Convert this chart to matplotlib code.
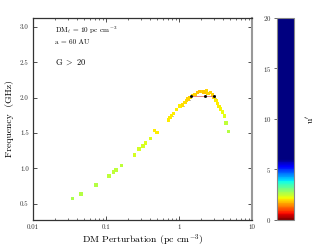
import numpy as np
import matplotlib
matplotlib.use("Agg")
import matplotlib.pyplot as plt
from matplotlib.colors import ListedColormap, Normalize
import matplotlib.cm as cm

plt.rcParams['font.family'] = 'serif'
plt.rcParams['font.serif'] = ['cmr10', 'DejaVu Serif']
plt.rcParams['mathtext.fontset'] = 'cm'
plt.rcParams['axes.unicode_minus'] = False
plt.rcParams['axes.formatter.use_mathtext'] = True

###############################################################################
# datos
###############################################################################
dm = [0.0345, 0.0455, 0.073, 0.11, 0.126, 0.138, 0.162, 0.244, 0.283, 0.321,
      0.35, 0.41, 0.459, 0.5,
      0.713, 0.753, 0.795, 0.836, 0.93, 1.03, 1.11, 1.21, 1.27, 1.33, 1.41,
      1.54, 1.65, 1.78, 1.93, 2.1, 2.2, 2.37, 2.5, 2.7, 2.88, 3.0, 3.2, 3.35,
      3.55, 3.7, 3.97, 4.2, 4.4, 4.8]
freq = [0.571, 0.637, 0.764, 0.895, 0.948, 0.98, 1.037, 1.192, 1.273, 1.315,
        1.357, 1.42, 1.535, 1.51,
        1.686, 1.72, 1.747, 1.78, 1.83, 1.885, 1.9, 1.93, 1.96, 1.98, 2.0,
        2.03, 2.05, 2.07, 2.09, 2.09, 2.08, 2.1, 2.06, 2.07, 2.04, 2.0, 1.96,
        1.92, 1.88, 1.84, 1.80, 1.74, 1.64, 1.52]
uprime = [2.7, 2.65, 2.6, 2.55, 2.5, 2.5, 2.5, 2.4, 2.4, 2.4,
          2.3, 2.3, 2.1, 2.05,
          2.05, 2.05, 2.05, 2.05, 2.05, 2.05, 2.0, 2.0, 2.0, 1.95, 1.95,
          1.9, 1.9, 1.85, 1.85, 1.9, 1.85, 1.9, 1.95, 1.9, 1.95, 2.0, 2.05,
          2.05, 2.1, 2.15, 2.2, 2.3, 2.5, 2.65]

# barras de error horizontales (grises)
err_x = [0.49, 0.77, 0.8, 1.1, 1.33, 1.6, 3.05, 3.35, 3.6]
err_y = [1.535, 1.745, 1.77, 1.89, 1.965, 2.035, 1.99, 1.93, 1.87]
err_w = [0.03, 0.05, 0.05, 0.07, 0.08, 0.1, 0.15, 0.12, 0.1]

# barra del pico
pico_x = [1.45, 2.27, 3.01]
pico_y = [2.03, 2.03, 2.03]

###############################################################################
# mapa de color: jet invertido de 0 a 6, azul oscuro hasta 20
###############################################################################
jr = plt.get_cmap('jet_r')
vals = np.linspace(0, 20, 256)
cmap = ListedColormap([jr(min(v / 6.0, 1.0)) for v in vals])
norm = Normalize(0, 20)

fig = plt.figure(figsize=(3.36, 2.52), dpi=100)
ax = fig.add_axes([0.098, 0.127, 0.652, 0.802])

ax.errorbar(err_x, err_y, xerr=err_w, fmt='none', ecolor='#808080',
            elinewidth=0.7, capsize=0, zorder=1)
ax.plot(pico_x, pico_y, color='#e07070', lw=0.6, zorder=3)
ax.scatter(dm, freq, c=uprime, cmap=cmap, norm=norm, marker='s', s=6,
           linewidths=0, zorder=2)
ax.plot(pico_x, pico_y, 's', color='black', ms=1.0, zorder=4)

ax.set_xscale('log')
ax.set_xlim(0.01, 10)
ax.set_ylim(0.27, 3.13)
ax.set_yticks([0.5, 1.0, 1.5, 2.0, 2.5, 3.0])
ax.set_yticklabels(['0.5', '1.0', '1.5', '2.0', '2.5', '3.0'])
ax.set_xticks([0.01, 0.1, 1, 10])
ax.set_xticklabels(['0.01', '0.1', '1', '10'])
ax.tick_params(which='both', direction='in', top=True, right=True,
               labelsize=5, colors='#333333', pad=3)
ax.tick_params(which='major', length=3, width=0.6)
ax.tick_params(which='minor', length=1.5, width=0.5)
ax.yaxis.set_minor_locator(plt.NullLocator())

for s in ['left', 'bottom', 'top']:
    ax.spines[s].set_color('#333333')
    ax.spines[s].set_linewidth(0.9)
ax.spines['right'].set_color('#999999')
ax.spines['right'].set_linewidth(1.5)

ax.set_xlabel(r'DM Perturbation (pc cm$^{-3}$)', fontsize=7, labelpad=2)
ax.set_ylabel(r'Frequency  (GHz)', fontsize=7, labelpad=4)

ax.text(0.10, 0.943, r'DM$_\ell$ = 10 pc cm$^{-3}$', transform=ax.transAxes,
        fontsize=5.2, va='center')
ax.text(0.10, 0.878, r'a = 60 AU', transform=ax.transAxes,
        fontsize=5.2, va='center')
ax.text(0.10, 0.78, r'G $>$ 20', transform=ax.transAxes,
        fontsize=6, va='center')

###############################################################################
# barra de color
###############################################################################
cax = fig.add_axes([0.824, 0.127, 0.051, 0.802])
cb = fig.colorbar(cm.ScalarMappable(norm=norm, cmap=cmap), cax=cax)
cb.set_ticks([0, 5, 10, 15, 20])
cax.yaxis.set_ticks_position('left')
cax.yaxis.set_label_position('right')
cax.tick_params(labelsize=5, length=2, width=0.5, colors='#333333', pad=2)
cb.outline.set_edgecolor('#888888')
cb.outline.set_linewidth(0.8)
cb.set_label(r"u$'$", fontsize=7, labelpad=8)

fig.savefig('out.png', dpi=100)
